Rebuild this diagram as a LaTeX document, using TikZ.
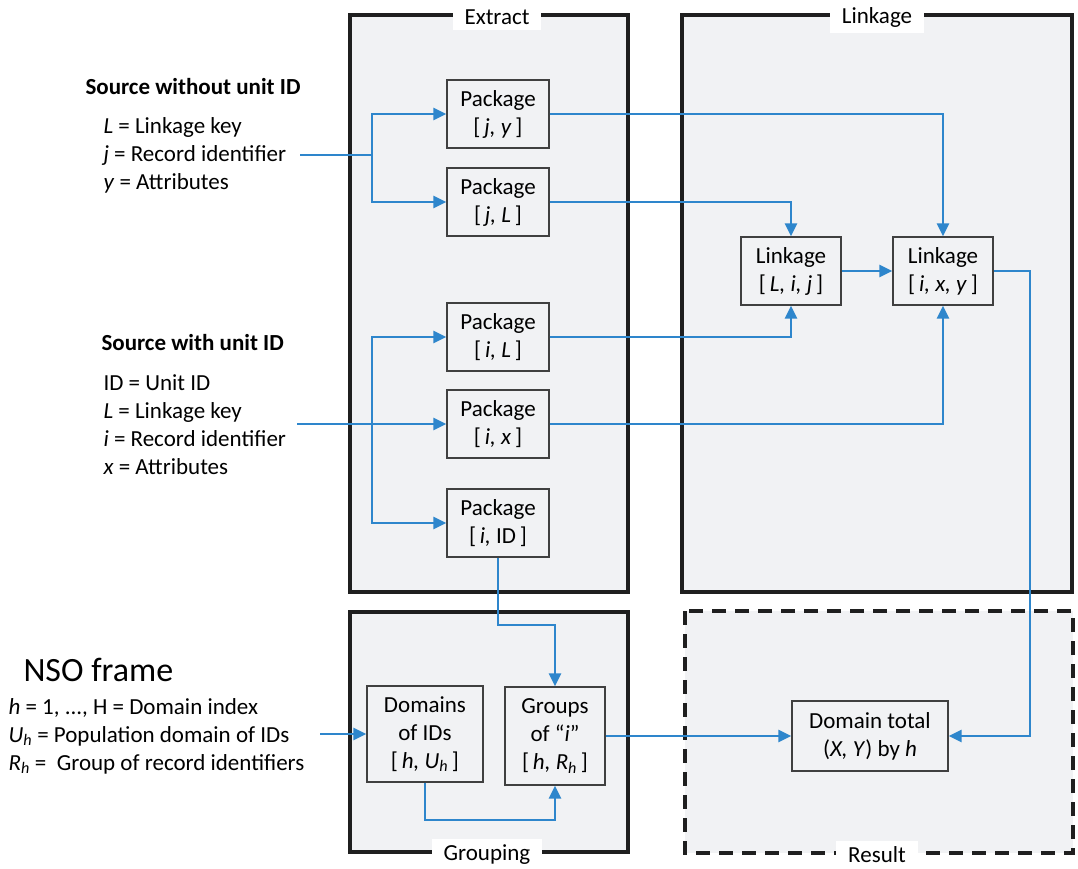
\documentclass[tikz,border=0pt]{standalone}
\usepackage{fontspec}
\setmainfont{Carlito}
\usetikzlibrary{arrows.meta}

\definecolor{flowblue}{RGB}{46,134,204}
\definecolor{panelgray}{RGB}{241,242,244}
\definecolor{boxline}{RGB}{64,64,64}

\tikzset{
 panel/.style={draw=black!88, line width=3.5pt, fill=panelgray},
 stagebox/.style={draw=boxline, line width=1.2pt, fill=panelgray, align=center,
   minimum width=102pt, minimum height=68pt, inner sep=0pt},
 flow/.style={draw=flowblue, line width=2.7pt, -{Triangle[length=13pt,width=12pt]}},
 tag/.style={fill=white, inner xsep=12pt, inner ysep=6pt},
 legend/.style={anchor=west, align=left},
}

\begin{document}
\begin{tikzpicture}[x=1pt, y=-1pt, font=\fontsize{23}{28}\selectfont]
 \useasboundingbox (0,0) rectangle (1078,869);

% Panels
 \draw[panel] (350,15) rectangle (628,592);
 \draw[panel] (682,15) rectangle (1072,592);
 \draw[panel] (350,612) rectangle (628,852);
 \draw[panel, dash pattern=on 14pt off 9pt] (685,611) rectangle (1073,853);
 \node[tag] (extractTag) at (497,17) {Extract};
 \node[tag] (linkageTag) at (877,17) {Linkage};
 \node[tag] (groupingTag) at (487,855) {Grouping};
 \node[tag] (resultTag) at (877,855) {Result};

% Source without unit ID
 \node[anchor=west, font=\fontsize{23}{28}\selectfont\bfseries] (srcAhead) at (82,87) {Source without unit ID};
 \node[legend] (srcAkeys) at (100,155) {\textit{L} = Linkage key\\ \textit{j} = Record identifier\\ \textit{y} = Attributes};

% Source with unit ID
 \node[anchor=west, font=\fontsize{23}{28}\selectfont\bfseries] (srcBhead) at (98,343) {Source with unit ID};
 \node[legend] (srcBkeys) at (100,425) {ID = Unit ID\\ \textit{L} = Linkage key\\ \textit{i} = Record identifier\\ \textit{x} = Attributes};

% NSO frame
 \node[anchor=west, font=\fontsize{34}{40}\selectfont] (nsohead) at (20,670) {NSO frame};
 \node[legend] (nsokeys) at (5,736) {\textit{h} = 1, ..., H = Domain index\\
   \textit{U}\textsubscript{\textit{h}} = Population domain of IDs\\
   \textit{R}\textsubscript{\textit{h}} =\ \ Group of record identifiers};

% Extract packages
 \node[stagebox] (pJY) at (498,114) {Package\\{[}\,\textit{j, y}\,{]}};
 \node[stagebox] (pJL) at (498,202) {Package\\{[}\,\textit{j, L}\,{]}};
 \node[stagebox] (pIL) at (498,337) {Package\\{[}\,\textit{i, L}\,{]}};
 \node[stagebox] (pIX) at (498,424) {Package\\{[}\,\textit{i, x}\,{]}};
 \node[stagebox] (pID) at (498,523) {Package\\{[}\,\textit{i,} ID\,{]}};

% Linkage steps
 \node[stagebox, minimum width=100pt] (lLIJ) at (791,271) {Linkage\\{[}\,\textit{L, i, j}\,{]}};
 \node[stagebox, minimum width=100pt] (lIXY) at (943,271) {Linkage\\{[}\,\textit{i, x, y}\,{]}};

% Grouping and result
 \node[stagebox, minimum width=116pt, minimum height=96pt] (domains) at (425,734) {Domains\\of IDs\\{[}\,\textit{h, U}\textsubscript{\textit{h}}\,{]}};
 \node[stagebox, minimum width=100pt, minimum height=98pt] (groups) at (555,736) {Groups\\of ``\textit{i}''\\{[}\,\textit{h, R}\textsubscript{\textit{h}}\,{]}};
 \node[stagebox, minimum width=156pt, minimum height=70pt] (total) at (870,736) {Domain total\\(\textit{X, Y}) by \textit{h}};

% Inputs into Extract
 \coordinate (srcAin) at (300,155);
 \coordinate (splitA) at (372,155);
 \draw[flow, -] (srcAin) -- (splitA);
 \draw[flow] (splitA) |- (pJY);
 \draw[flow] (splitA) |- (pJL);

 \coordinate (srcBin) at (297,424);
 \coordinate (splitB) at (372,424);
 \draw[flow] (srcBin) -- (pIX);
 \draw[flow] (splitB) |- (pIL);
 \draw[flow] (splitB) |- (pID);

% Extract to linkage
 \draw[flow] (pJY) -| (lIXY);
 \draw[flow] (pJL) -| (lLIJ);
 \draw[flow] (pIL) -| (lLIJ);
 \draw[flow] (pIX) -| (lIXY);
 \draw[flow] (lLIJ) -- (lIXY);

% Linkage to result
 \coordinate (bendR) at (1030,500);
 \draw[flow] (lIXY) -| (bendR) |- (total);

% Grouping
 \coordinate (nsoIn) at (320,734);
 \draw[flow] (nsoIn) -- (domains);
 \coordinate (bendG) at (530,625);
 \draw[flow] (pID) |- (bendG) -| (groups);
 \coordinate (bendD) at (490,820);
 \draw[flow] (domains) |- (bendD) -| (groups);
 \draw[flow] (groups) -- (total);

\end{tikzpicture}
\end{document}
